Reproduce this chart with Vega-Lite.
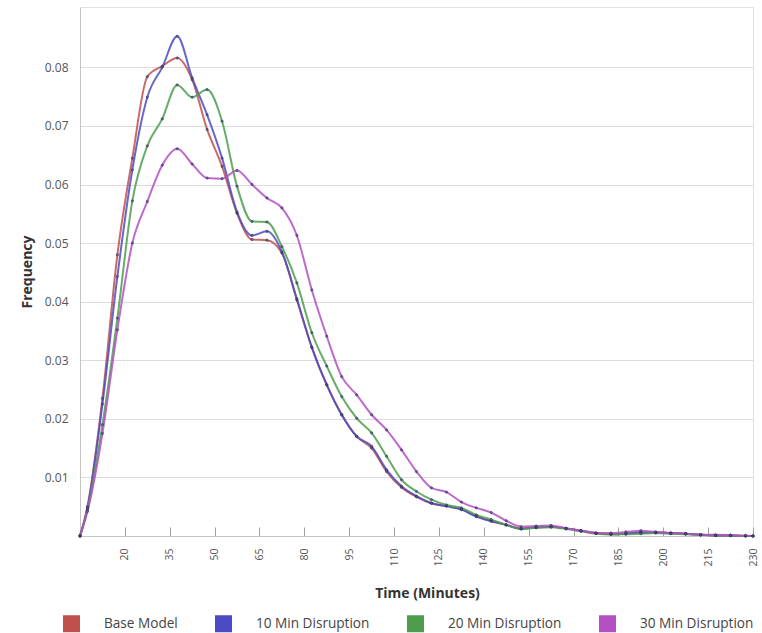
{
"$schema": "https://vega.github.io/schema/vega-lite/v6.json",
"width": 673, "height": 529,
"autosize": {"type": "none"},
"padding": {"left": 80, "top": 7, "right": 9, "bottom": 97},
"background": "white",
"config": {"font": "Open Sans", "view": {"stroke": "#e3e3e3", "strokeWidth": 1}},
"datasets": {"d": [
{"t":5,"s":"Base Model","f":0},{"t":7.5,"s":"Base Model","f":0.005},{"t":12.5,"s":"Base Model","f":0.0235},{"t":17.5,"s":"Base Model","f":0.048},{"t":22.5,"s":"Base Model","f":0.0645},{"t":27.5,"s":"Base Model","f":0.0784},{"t":32.5,"s":"Base Model","f":0.0802},{"t":37.5,"s":"Base Model","f":0.0816},{"t":42.5,"s":"Base Model","f":0.0779},{"t":47.5,"s":"Base Model","f":0.0694},{"t":52.5,"s":"Base Model","f":0.0631},{"t":57.5,"s":"Base Model","f":0.0551},{"t":62.5,"s":"Base Model","f":0.0506},{"t":67.5,"s":"Base Model","f":0.0505},{"t":72.5,"s":"Base Model","f":0.0483},{"t":77.5,"s":"Base Model","f":0.0403},{"t":82.5,"s":"Base Model","f":0.0322},{"t":87.5,"s":"Base Model","f":0.0258},{"t":92.5,"s":"Base Model","f":0.0207},{"t":97.5,"s":"Base Model","f":0.017},{"t":102.5,"s":"Base Model","f":0.015},{"t":107.5,"s":"Base Model","f":0.011},{"t":112.5,"s":"Base Model","f":0.0083},{"t":117.5,"s":"Base Model","f":0.0067},{"t":122.5,"s":"Base Model","f":0.0056},{"t":127.5,"s":"Base Model","f":0.0051},{"t":132.5,"s":"Base Model","f":0.0046},{"t":137.5,"s":"Base Model","f":0.0034},{"t":142.5,"s":"Base Model","f":0.0026},{"t":147.5,"s":"Base Model","f":0.0019},{"t":152.5,"s":"Base Model","f":0.0013},{"t":157.5,"s":"Base Model","f":0.0015},{"t":162.5,"s":"Base Model","f":0.0016},{"t":167.5,"s":"Base Model","f":0.0013},{"t":172.5,"s":"Base Model","f":0.0009},{"t":177.5,"s":"Base Model","f":0.0005},{"t":182.5,"s":"Base Model","f":0.0003},{"t":187.5,"s":"Base Model","f":0.0004},{"t":192.5,"s":"Base Model","f":0.0006},{"t":197.5,"s":"Base Model","f":0.0006},{"t":202.5,"s":"Base Model","f":0.0005},{"t":207.5,"s":"Base Model","f":0.0004},{"t":212.5,"s":"Base Model","f":0.0002},{"t":217.5,"s":"Base Model","f":0.0001},{"t":222.5,"s":"Base Model","f":0.0001},{"t":227.5,"s":"Base Model","f":0},{"t":230,"s":"Base Model","f":0},
{"t":5,"s":"10 Min Disruption","f":0},{"t":7.5,"s":"10 Min Disruption","f":0.0048},{"t":12.5,"s":"10 Min Disruption","f":0.0225},{"t":17.5,"s":"10 Min Disruption","f":0.0443},{"t":22.5,"s":"10 Min Disruption","f":0.0625},{"t":27.5,"s":"10 Min Disruption","f":0.0749},{"t":32.5,"s":"10 Min Disruption","f":0.08},{"t":37.5,"s":"10 Min Disruption","f":0.0853},{"t":42.5,"s":"10 Min Disruption","f":0.0782},{"t":47.5,"s":"10 Min Disruption","f":0.0719},{"t":52.5,"s":"10 Min Disruption","f":0.0645},{"t":57.5,"s":"10 Min Disruption","f":0.0553},{"t":62.5,"s":"10 Min Disruption","f":0.0513},{"t":67.5,"s":"10 Min Disruption","f":0.052},{"t":72.5,"s":"10 Min Disruption","f":0.0485},{"t":77.5,"s":"10 Min Disruption","f":0.0405},{"t":82.5,"s":"10 Min Disruption","f":0.0322},{"t":87.5,"s":"10 Min Disruption","f":0.0258},{"t":92.5,"s":"10 Min Disruption","f":0.0207},{"t":97.5,"s":"10 Min Disruption","f":0.017},{"t":102.5,"s":"10 Min Disruption","f":0.0153},{"t":107.5,"s":"10 Min Disruption","f":0.0113},{"t":112.5,"s":"10 Min Disruption","f":0.0085},{"t":117.5,"s":"10 Min Disruption","f":0.0068},{"t":122.5,"s":"10 Min Disruption","f":0.0056},{"t":127.5,"s":"10 Min Disruption","f":0.0051},{"t":132.5,"s":"10 Min Disruption","f":0.0045},{"t":137.5,"s":"10 Min Disruption","f":0.0033},{"t":142.5,"s":"10 Min Disruption","f":0.0025},{"t":147.5,"s":"10 Min Disruption","f":0.0019},{"t":152.5,"s":"10 Min Disruption","f":0.0012},{"t":157.5,"s":"10 Min Disruption","f":0.0015},{"t":162.5,"s":"10 Min Disruption","f":0.0016},{"t":167.5,"s":"10 Min Disruption","f":0.0013},{"t":172.5,"s":"10 Min Disruption","f":0.0009},{"t":177.5,"s":"10 Min Disruption","f":0.0005},{"t":182.5,"s":"10 Min Disruption","f":0.0003},{"t":187.5,"s":"10 Min Disruption","f":0.0004},{"t":192.5,"s":"10 Min Disruption","f":0.0006},{"t":197.5,"s":"10 Min Disruption","f":0.0006},{"t":202.5,"s":"10 Min Disruption","f":0.0005},{"t":207.5,"s":"10 Min Disruption","f":0.0004},{"t":212.5,"s":"10 Min Disruption","f":0.0002},{"t":217.5,"s":"10 Min Disruption","f":0.0001},{"t":222.5,"s":"10 Min Disruption","f":0.0001},{"t":227.5,"s":"10 Min Disruption","f":0},{"t":230,"s":"10 Min Disruption","f":0},
{"t":5,"s":"20 Min Disruption","f":0},{"t":7.5,"s":"20 Min Disruption","f":0.0045},{"t":12.5,"s":"20 Min Disruption","f":0.019},{"t":17.5,"s":"20 Min Disruption","f":0.0372},{"t":22.5,"s":"20 Min Disruption","f":0.0572},{"t":27.5,"s":"20 Min Disruption","f":0.0666},{"t":32.5,"s":"20 Min Disruption","f":0.0712},{"t":37.5,"s":"20 Min Disruption","f":0.077},{"t":42.5,"s":"20 Min Disruption","f":0.0749},{"t":47.5,"s":"20 Min Disruption","f":0.0762},{"t":52.5,"s":"20 Min Disruption","f":0.0708},{"t":57.5,"s":"20 Min Disruption","f":0.0597},{"t":62.5,"s":"20 Min Disruption","f":0.0537},{"t":67.5,"s":"20 Min Disruption","f":0.0536},{"t":72.5,"s":"20 Min Disruption","f":0.0494},{"t":77.5,"s":"20 Min Disruption","f":0.0432},{"t":82.5,"s":"20 Min Disruption","f":0.0347},{"t":87.5,"s":"20 Min Disruption","f":0.029},{"t":92.5,"s":"20 Min Disruption","f":0.0238},{"t":97.5,"s":"20 Min Disruption","f":0.0201},{"t":102.5,"s":"20 Min Disruption","f":0.0176},{"t":107.5,"s":"20 Min Disruption","f":0.0136},{"t":112.5,"s":"20 Min Disruption","f":0.0096},{"t":117.5,"s":"20 Min Disruption","f":0.0076},{"t":122.5,"s":"20 Min Disruption","f":0.0062},{"t":127.5,"s":"20 Min Disruption","f":0.0053},{"t":132.5,"s":"20 Min Disruption","f":0.0048},{"t":137.5,"s":"20 Min Disruption","f":0.0036},{"t":142.5,"s":"20 Min Disruption","f":0.0028},{"t":147.5,"s":"20 Min Disruption","f":0.0019},{"t":152.5,"s":"20 Min Disruption","f":0.0012},{"t":157.5,"s":"20 Min Disruption","f":0.0014},{"t":162.5,"s":"20 Min Disruption","f":0.0015},{"t":167.5,"s":"20 Min Disruption","f":0.0012},{"t":172.5,"s":"20 Min Disruption","f":0.0008},{"t":177.5,"s":"20 Min Disruption","f":0.0004},{"t":182.5,"s":"20 Min Disruption","f":0.0003},{"t":187.5,"s":"20 Min Disruption","f":0.0003},{"t":192.5,"s":"20 Min Disruption","f":0.0004},{"t":197.5,"s":"20 Min Disruption","f":0.0005},{"t":202.5,"s":"20 Min Disruption","f":0.0004},{"t":207.5,"s":"20 Min Disruption","f":0.0003},{"t":212.5,"s":"20 Min Disruption","f":0.0002},{"t":217.5,"s":"20 Min Disruption","f":0.0001},{"t":222.5,"s":"20 Min Disruption","f":0.0001},{"t":227.5,"s":"20 Min Disruption","f":0},{"t":230,"s":"20 Min Disruption","f":0},
{"t":5,"s":"30 Min Disruption","f":0},{"t":7.5,"s":"30 Min Disruption","f":0.0042},{"t":12.5,"s":"30 Min Disruption","f":0.0175},{"t":17.5,"s":"30 Min Disruption","f":0.0352},{"t":22.5,"s":"30 Min Disruption","f":0.05},{"t":27.5,"s":"30 Min Disruption","f":0.0571},{"t":32.5,"s":"30 Min Disruption","f":0.0633},{"t":37.5,"s":"30 Min Disruption","f":0.0661},{"t":42.5,"s":"30 Min Disruption","f":0.0635},{"t":47.5,"s":"30 Min Disruption","f":0.0611},{"t":52.5,"s":"30 Min Disruption","f":0.061},{"t":57.5,"s":"30 Min Disruption","f":0.0624},{"t":62.5,"s":"30 Min Disruption","f":0.06},{"t":67.5,"s":"30 Min Disruption","f":0.0577},{"t":72.5,"s":"30 Min Disruption","f":0.056},{"t":77.5,"s":"30 Min Disruption","f":0.0513},{"t":82.5,"s":"30 Min Disruption","f":0.042},{"t":87.5,"s":"30 Min Disruption","f":0.0341},{"t":92.5,"s":"30 Min Disruption","f":0.0272},{"t":97.5,"s":"30 Min Disruption","f":0.0241},{"t":102.5,"s":"30 Min Disruption","f":0.0207},{"t":107.5,"s":"30 Min Disruption","f":0.0181},{"t":112.5,"s":"30 Min Disruption","f":0.0147},{"t":117.5,"s":"30 Min Disruption","f":0.011},{"t":122.5,"s":"30 Min Disruption","f":0.0082},{"t":127.5,"s":"30 Min Disruption","f":0.0075},{"t":132.5,"s":"30 Min Disruption","f":0.0058},{"t":137.5,"s":"30 Min Disruption","f":0.0048},{"t":142.5,"s":"30 Min Disruption","f":0.004},{"t":147.5,"s":"30 Min Disruption","f":0.0026},{"t":152.5,"s":"30 Min Disruption","f":0.0016},{"t":157.5,"s":"30 Min Disruption","f":0.0017},{"t":162.5,"s":"30 Min Disruption","f":0.0018},{"t":167.5,"s":"30 Min Disruption","f":0.0013},{"t":172.5,"s":"30 Min Disruption","f":0.0009},{"t":177.5,"s":"30 Min Disruption","f":0.0005},{"t":182.5,"s":"30 Min Disruption","f":0.0005},{"t":187.5,"s":"30 Min Disruption","f":0.0007},{"t":192.5,"s":"30 Min Disruption","f":0.0009},{"t":197.5,"s":"30 Min Disruption","f":0.0007},{"t":202.5,"s":"30 Min Disruption","f":0.0005},{"t":207.5,"s":"30 Min Disruption","f":0.0004},{"t":212.5,"s":"30 Min Disruption","f":0.0002},{"t":217.5,"s":"30 Min Disruption","f":0.0002},{"t":222.5,"s":"30 Min Disruption","f":0.0001},{"t":227.5,"s":"30 Min Disruption","f":0.0001},{"t":230,"s":"30 Min Disruption","f":0}
]},
"data": {"name": "d"},
"layer": [
{"mark": {"type": "line", "interpolate": "monotone", "strokeWidth": 2, "opacity": 0.85},
 "encoding": {
  "x": {"field": "t", "type": "quantitative", "scale": {"domain": [5, 230], "nice": false, "zero": false},
   "axis": {"values": [20,35,50,65,80,95,110,125,140,155,170,185,200,215,230], "labelAngle": -90, "labelFontSize": 10.5, "labelColor": "#555555", "tickSize": -9, "tickColor": "#a0a0a0", "domainColor": "#c4c4c4", "grid": false, "labelPadding": 21, "title": "Time (Minutes)", "titleFontSize": 14, "titleFontWeight": "bold", "titleColor": "#333333", "titlePadding": 20, "titleX": 347}},
  "y": {"field": "f", "type": "quantitative", "scale": {"domain": [0, 0.0903], "nice": false},
   "axis": {"values": [0.01,0.02,0.03,0.04,0.05,0.06,0.07,0.08], "format": ".2f", "ticks": false, "grid": true, "gridColor": "#dcdcdc", "domainColor": "#c4c4c4", "labelPadding": 12, "labelFontSize": 12, "labelColor": "#555555", "title": "Frequency", "titleFontSize": 14, "titleFontWeight": "bold", "titleColor": "#333333", "titlePadding": 10}},
  "color": {"field": "s", "type": "nominal",
   "scale": {"domain": ["Base Model", "10 Min Disruption", "20 Min Disruption", "30 Min Disruption"], "range": ["#c0504d", "#4b4bc3", "#4c9e4c", "#b44fc4"]},
   "legend": {"orient": "none", "legendX": -17, "legendY": 608, "direction": "horizontal", "title": null, "symbolType": "square", "symbolSize": 64, "symbolStrokeWidth": 9, "symbolOpacity": 1, "labelFontSize": 13.6, "labelColor": "#444444", "labelOffset": 24, "columnPadding": 23, "padding": 0}}
 }},
{"mark": {"type": "point", "filled": true, "size": 5, "opacity": 0.8, "stroke": "#2e2450", "strokeWidth": 0.8},
 "encoding": {"x": {"field": "t", "type": "quantitative"}, "y": {"field": "f", "type": "quantitative"}, "detail": {"field": "s"}}}
]
}
